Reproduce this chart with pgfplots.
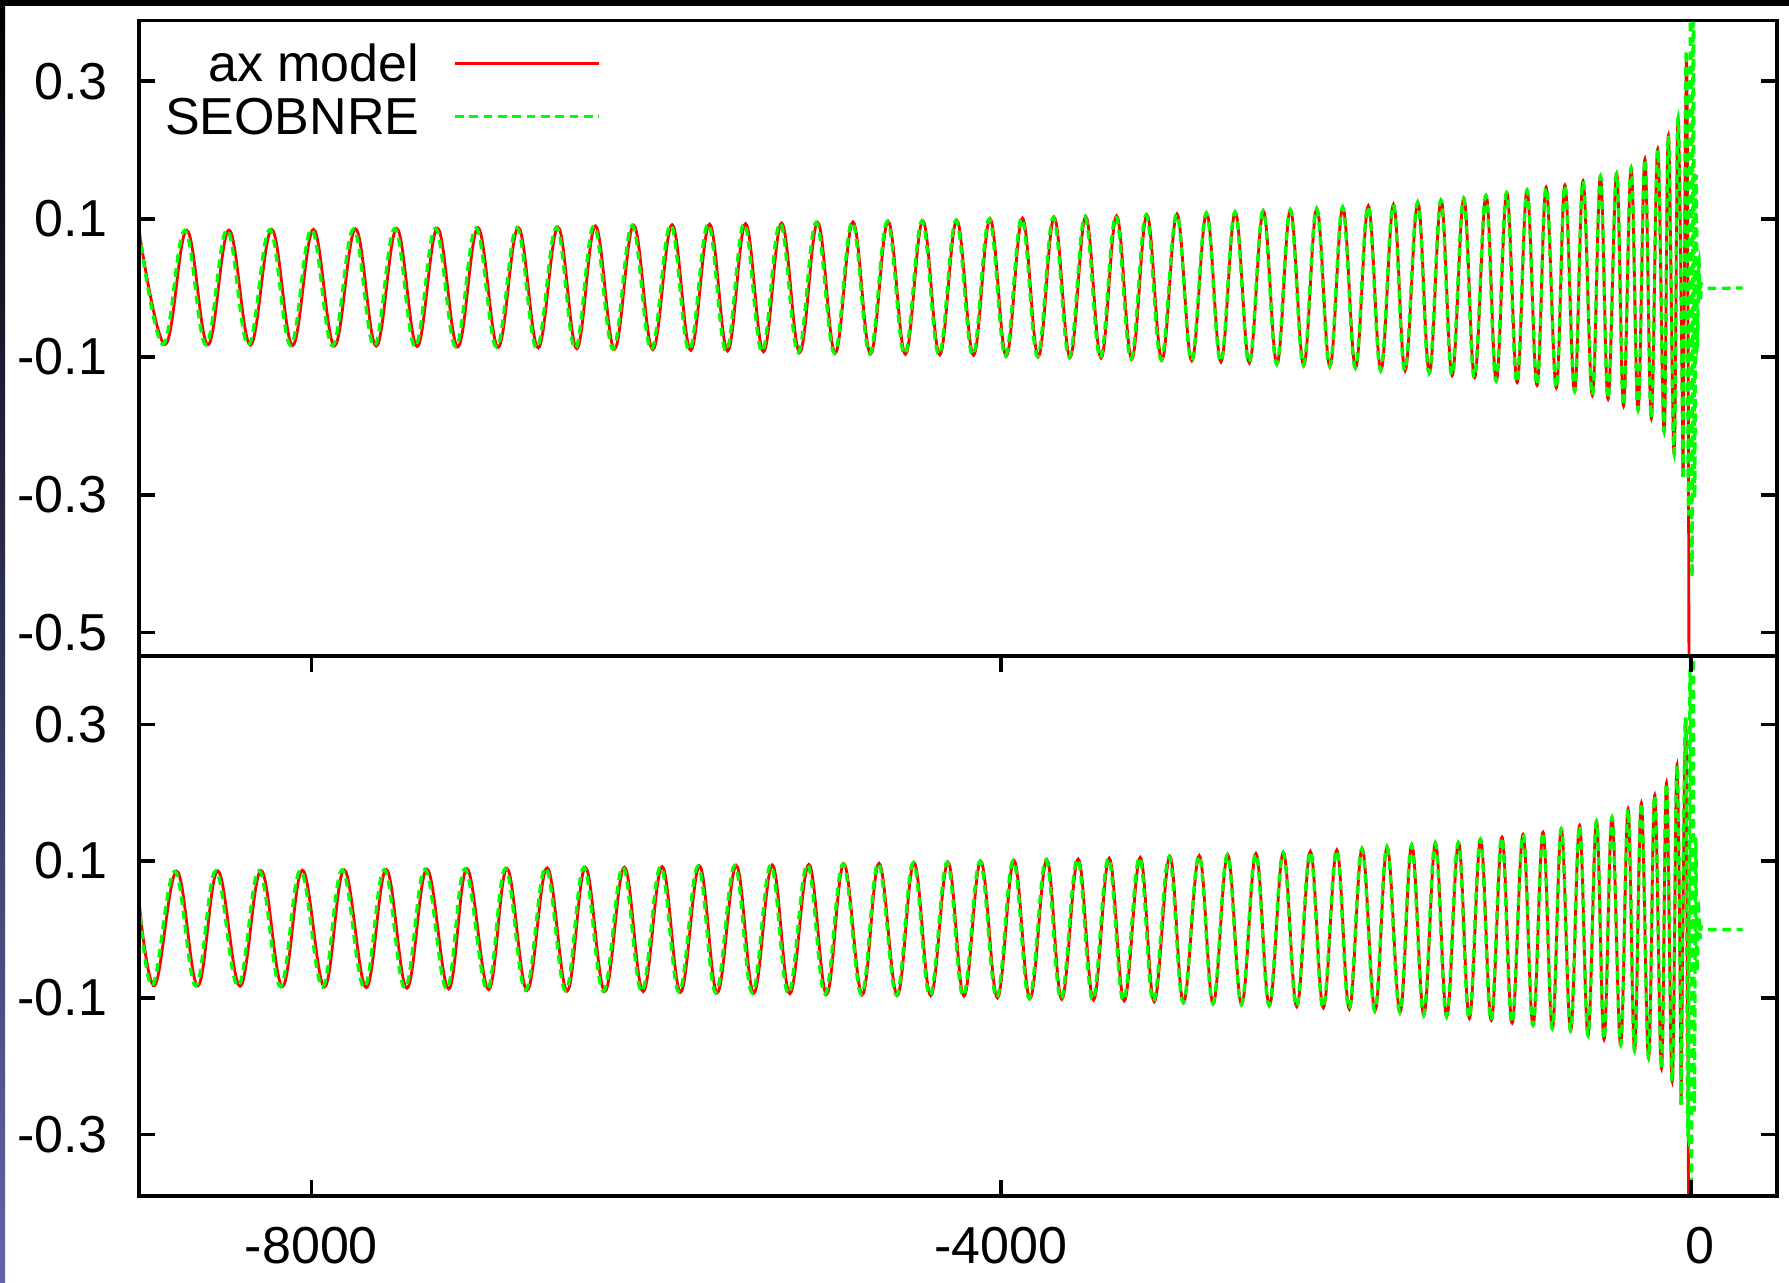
\documentclass[border=0pt]{standalone}
\usepackage{pgfplots}
\pgfplotsset{compat=1.18}
\usepackage{pgfplotstable}
\usetikzlibrary{shadings}
\usepackage{fontspec}
\setmainfont{Liberation Sans}
\definecolor{gpred}{RGB}{255,0,0}
\definecolor{gpgreen}{RGB}{0,255,0}
\definecolor{edgeblue}{RGB}{100,100,170}

\pgfplotstableread{
t tg y
-9000 -9000 0.083
-8849 -8861 -0.082
-8723 -8735 0.0835
-8600 -8612 -0.0825
-8478 -8490 0.084
-8354 -8366 -0.083
-8230 -8242 0.0845
-8109 -8121 -0.0835
-7988 -8000 0.085
-7866 -7878 -0.084
-7744 -7756 0.0855
-7624 -7636 -0.0845
-7505 -7517 0.086
-7387 -7399 -0.085
-7269 -7281 0.0865
-7151 -7163 -0.0855
-7034 -7046 0.087
-6917 -6926 -0.086
-6800 -6809 0.0875
-6685 -6694 -0.087
-6570 -6579 0.088
-6461 -6470 -0.088
-6353 -6362 0.090
-6242 -6251 -0.0885
-6131 -6140 0.0908
-6020 -6029 -0.0895
-5908 -5917 0.0916
-5800 -5809 -0.0905
-5691 -5700 0.0924
-5586 -5595 -0.0915
-5482 -5491 0.0932
-5378 -5387 -0.0925
-5273 -5282 0.0940
-5168 -5177 -0.0935
-5064 -5073 0.0948
-4962 -4967 -0.0945
-4859 -4864 0.0956
-4757 -4762 -0.0955
-4655 -4660 0.0964
-4555 -4560 -0.0962
-4454 -4459 0.0972
-4356 -4361 -0.0970
-4257 -4262 0.0980
-4160 -4165 -0.0976
-4064 -4069 0.1000
-3970 -3975 -0.0985
-3876 -3881 0.1011
-3784 -3789 -0.0995
-3692 -3697 0.1022
-3600 -3605 -0.1005
-3509 -3514 0.1033
-3420 -3425 -0.1017
-3330 -3335 0.1045
-3242 -3247 -0.1030
-3154 -3159 0.1058
-3067 -3072 -0.1043
-2980 -2982 0.1071
-2894 -2896 -0.1057
-2808 -2810 0.1086
-2725 -2727 -0.1072
-2642 -2644 0.1100
-2560 -2562 -0.1088
-2479 -2481 0.1116
-2400 -2402 -0.1104
-2322 -2324 0.1132
-2245 -2247 -0.1121
-2169 -2171 0.1150
-2093 -2095 -0.1139
-2018 -2020 0.1168
-1944 -1946 -0.1158
-1870 -1872 0.1188
-1797 -1799 -0.1195
-1724 -1726 0.121
-1657 -1659 -0.120
-1583 -1585 0.124
-1516 -1518 -0.123
-1448 -1450 0.127
-1384 -1386 -0.127
-1316 -1318 0.130
-1254 -1256 -0.130
-1187 -1189 0.134
-1128 -1130 -0.135
-1067 -1069 0.138
-1007 -1009 -0.137
-950 -950 0.142
-892 -892 -0.141
-839 -839 0.146
-780 -780 -0.145
-730 -730 0.149
-674 -674 -0.150
-625 -625 0.155
-571 -571 -0.156
-524 -524 0.162
-480 -480 -0.161
-430 -430 0.166
-390 -390 -0.171
-346 -346 0.174
-306 -306 -0.177
-266 -266 0.187
-229 -229 -0.189
-192 -192 0.201
-155 -155 -0.208
-130 -130 0.221
-97 -97 -0.240
-74 -74 0.246
-45 -45 -0.274
}\topdata

\pgfplotstableread{
t y
-45 -0.274
-26 0.325
-17 0.0
-12 -0.40
-9 -0.80
}\topredtail

\pgfplotstableread{
t y
-45 -0.274
-26 0.345
-13 -0.33
-1 0.42
7 -0.42
14 0.50
22 -0.30
30 0.16
38 -0.08
46 0.04
54 -0.018
62 0.006
70 0
300 0
}\topgreentail

\pgfplotstableread{
t tg y
-9000 -9000 0.040
-8909 -8921 -0.082
-8781 -8793 0.085
-8659 -8671 -0.0825
-8543 -8555 0.0855
-8414 -8426 -0.083
-8292 -8304 0.086
-8168 -8180 -0.0835
-8052 -8064 0.0865
-7924 -7936 -0.084
-7810 -7822 0.087
-7682 -7694 -0.085
-7566 -7578 0.0875
-7446 -7458 -0.086
-7330 -7342 0.088
-7204 -7216 -0.087
-7098 -7110 0.0885
-6972 -6981 -0.088
-6866 -6875 0.089
-6749 -6758 -0.089
-6633 -6642 0.090
-6517 -6526 -0.090
-6411 -6420 0.0905
-6298 -6307 -0.0905
-6185 -6194 0.091
-6076 -6085 -0.091
-5966 -5975 0.0918
-5859 -5868 -0.0918
-5749 -5758 0.0926
-5646 -5655 -0.0925
-5536 -5545 0.0934
-5434 -5443 -0.0932
-5327 -5336 0.0942
-5225 -5234 -0.0940
-5115 -5124 0.0950
-5012 -5021 -0.0948
-4912 -4917 0.0958
-4805 -4810 -0.0955
-4708 -4713 0.0966
-4602 -4607 -0.0962
-4505 -4510 0.0974
-4408 -4413 -0.0968
-4308 -4313 0.0982
-4215 -4220 -0.0975
-4118 -4123 0.0995
-4021 -4026 -0.1000
-3925 -3930 0.1006
-3832 -3837 -0.1010
-3735 -3740 0.1017
-3648 -3653 -0.1021
-3553 -3558 0.1028
-3464 -3469 -0.1032
-3373 -3378 0.1040
-3286 -3291 -0.1044
-3193 -3198 0.1052
-3112 -3117 -0.1056
-3021 -3026 0.1065
-2942 -2944 -0.1069
-2851 -2853 0.1079
-2770 -2772 -0.1083
-2686 -2688 0.1093
-2605 -2607 -0.1097
-2522 -2524 0.1108
-2444 -2446 -0.1112
-2363 -2365 0.1124
-2285 -2287 -0.1128
-2206 -2208 0.1141
-2131 -2133 -0.1146
-2053 -2055 0.1159
-1980 -1982 -0.1165
-1906 -1908 0.1180
-1831 -1833 -0.1187
-1761 -1763 0.1206
-1686 -1688 -0.1210
-1618 -1620 0.123
-1548 -1550 -0.125
-1481 -1483 0.126
-1415 -1417 -0.127
-1347 -1349 0.127
-1284 -1286 -0.130
-1219 -1221 0.132
-1157 -1159 -0.133
-1095 -1097 0.135
-1036 -1038 -0.137
-973 -973 0.139
-915 -915 -0.140
-857 -857 0.142
-803 -803 -0.145
-751 -751 0.147
-697 -697 -0.148
-645 -645 0.152
-596 -596 -0.155
-547 -547 0.158
-503 -503 -0.161
-457 -457 0.164
-407 -407 -0.169
-364 -364 0.176
-326 -326 -0.177
-287 -287 0.185
-245 -245 -0.188
-209 -209 0.196
-170 -170 -0.203
-141 -141 0.214
-108 -108 -0.222
-80 -80 0.240
-56 -56 -0.256
}\botdata

\pgfplotstableread{
t y
-56 -0.256
-31 0.300
-21 0.0
-14 -0.35
-10 -0.70
}\botredtail

\pgfplotstableread{
t y
-56 -0.256
-31 0.31
-17 -0.30
-4 0.38
4 -0.37
12 0.48
20 -0.26
28 0.13
36 -0.06
44 0.03
52 -0.012
60 0.004
68 0
300 0
}\botgreentail

\begin{document}
\begin{tikzpicture}[font=\fontsize{15.6}{18}\selectfont]
\path[use as bounding box] (0,0) rectangle (536.7pt,384.6pt);
\fill[white] (0,0) rectangle (536.7pt,384.6pt);
\fill[black] (0,382.8pt) rectangle (536.7pt,384.6pt);
\shade[top color=black,bottom color=edgeblue] (0,0) rectangle (1.5pt,384.6pt);
\pgfplotsset{gp/.style={scale only axis, width=491.4pt, xmin=-9000, xmax=500,
  tick align=inside, tick pos=both, major tick length=4.8pt,
  axis line style={line width=1.1pt}, tick style={black, line width=1.1pt},
  tick label style={font=\fontsize{15.6}{18}\selectfont},
  yticklabel style={xshift=-6pt}, xticklabel style={yshift=-5.9pt},
  axis on top, clip=true},
  redline/.style={gpred, line width=0.85pt, smooth, tension=0.65, no marks},
  greenline/.style={gpgreen, line width=1pt, dash pattern=on 2.6pt off 1.7pt, smooth, tension=0.65, no marks}}
\begin{axis}[gp, at={(41.7pt,378.45pt)}, anchor=north west, height=190.65pt,
  ymin=-0.534, ymax=0.388, xtick=\empty,
  ytick={-0.5,-0.3,-0.1,0.1,0.3}, yticklabels={-0.5,-0.3,-0.1,0.1,0.3}]
\addplot[redline] table[x=t,y=y] {\topdata};
\addplot[redline] table[x=t,y=y] {\topredtail};
\addplot[greenline] table[x=tg,y=y] {\topdata};
\addplot[greenline] table[x=t,y=y] {\topgreentail};
\node[anchor=east, inner sep=0pt] at (rel axis cs:0.17155,0.93265) {ax model};
\draw[gpred, line width=0.85pt] (rel axis cs:0.19292,0.93265) -- (rel axis cs:0.28083,0.93265);
\node[anchor=east, inner sep=0pt] at (rel axis cs:0.17155,0.84862) {SEOBNRE};
\draw[gpgreen, line width=1pt, dash pattern=on 2.6pt off 1.7pt] (rel axis cs:0.19292,0.84862) -- (rel axis cs:0.28083,0.84862);
\end{axis}
\begin{axis}[gp, at={(41.7pt,187.8pt)}, anchor=north west, height=162pt,
  ymin=-0.39, ymax=0.40,
  xtick={-8000,-4000,0}, xticklabels={-8000,-4000,{\hspace*{5.4pt}0}},
  ytick={-0.3,-0.1,0.1,0.3}, yticklabels={-0.3,-0.1,0.1,0.3}]
\addplot[redline] table[x=t,y=y] {\botdata};
\addplot[redline] table[x=t,y=y] {\botredtail};
\addplot[greenline] table[x=tg,y=y] {\botdata};
\addplot[greenline] table[x=t,y=y] {\botgreentail};
\end{axis}
\end{tikzpicture}
\end{document}
